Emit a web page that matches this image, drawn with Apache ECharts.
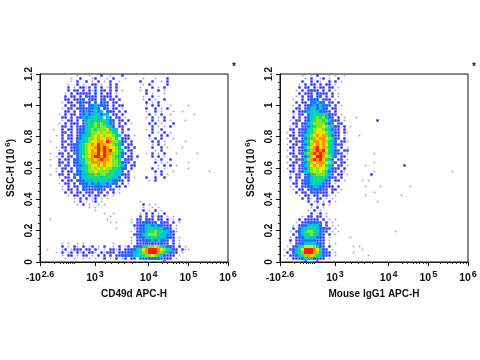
<!DOCTYPE html>
<html><head><meta charset="utf-8">
<style>html,body{margin:0;padding:0;background:#fff}#c{width:480px;height:360px}</style>
<script src="https://cdn.jsdelivr.net/npm/echarts@6/dist/echarts.min.js"></script>
</head><body><div id="c"></div>
<script>
// Density; each character is one 3px cell, '.' = empty, 1 (sparse) .. 9 (hottest)
const densityLeft = [
"............1...1...2..1...2",
"..........1..2...12...1.2...1.....1...1...2",
"..........1.2..2.1.2.1.2..1......2...2..1.2",
".........1..2.1..22.1..2.2........1.2.....2",
".........2.1.2212.2.2.12.2.......1...2.1.2",
".........2.22.2.212.22.2.2.1.....1.2...2.1",
"........1.2.22222.3.2.22.1.........2.1...1",
"........2.22.2.3222.2222.2........1..2.1",
"........22.2223.232.23.22.2.......1.2.1..2",
".......1.22.23223.3.322.22.........2.1.2",
"........2.22.32.3342332.2.22.......1.2.2...1.....1",
".......1.22.23323343.32.22.1.......2..2.1.2",
"........22.2.23432434.332.2.2......1..2.1...1..1",
"......1.2.22.2343445344.22.2........2.1.2..1.......1",
".......22.2.234344544.42.22.1......1.2.1.2",
".......1.22.2.24545455433.22.2.......2.1.2.1....1",
"......1.2.222.24546565432.2.2.1.....2.2.1...2",
".......22.2.2234556566543.22.........2.1.1.2",
"....1..2.22.23345656667544.2.2.....1.2..2",
".......22.2.23345667676654.2.........2.1.2.1",
".....1.2.22.234456767677654.22.1....2...2.2",
".......2.22.33456678778675.322......1.2.2...1",
"...1...22.2.34456778879866532.2......2.2.1......1",
".......2.2233456787988776543.22......1.2.1",
".....1.22.23345677898987765.32.2.....2..2.1....1",
"......1.2.223456787989897654.22.......1.2",
"...1..22.2.234567889798866532.2....1.2.1.2...1......1",
".....1.2.22.3466789989876543.22.2....2.2.1",
"...1..2.22.3344668789887665.322.......1.2..2",
"......22.2.3344678887877665322.2......2.1.1......1",
"...1..2.22.233456778787766553.22.......1.2.2.1",
".....1.22.2.34556767676655433.2......2.1.1.......1",
".....1.2.22.3345667666655442.2........2.2...1...........1......1",
"...1..22.2.2334455656655544322........1.2.1",
"......1.22.3.34455554555443.22.1...2..2..2",
".......2.22.3334445454443322.2......1.2",
"......1.22.2.3334343443433.2.1",
".......1.2.22.3322333232.22.2",
".......1.22.2.32222322.22.1",
"........2.2.22.222.22.2.2.1",
".........1.22.2.2122.21.1",
"...........1.2.2.12.1.1",
"...........1.2.1.12.1............1",
"............1.2.1..1.1............2.1.1",
"................1.1...............1..1.1",
"..................1...............2.1.2.1",
".....................1..1........1.2.2.1.2",
".......................1.........2.2.2.22.1.1",
"...1..................1.......1.22.322.22.2.1.2",
".......................1.1....1.2233323.322.2.1",
"...............................2233443433222.1",
".........................1.....1233455444332.1",
"..............................1.23345565544321",
"...............................23345666544322",
"..............................1.2334455444332.1",
"..............................1.22333434332.2.1",
".......1.1..1.1.........1.....1.22232322322.2.1",
".......2.1.21.2.12.1.2..1.2.12.23345667654332.2.1",
"..1....12.1222.22.21.1.2212.223345789998765432.211",
".....1.2.12.212.221.21222.22233445689998654322.1",
".......1.22.1.22.1.2.2.2.22333344556676543222.1",
"........1..1..1.1.1..2.1.2.12.22.22233332222.1",
".............................1..1.1.1..1.2.1"
];
const densityRight = [
".......1..1.2...1.1..1",
"........1.2..12.1..2",
".......2..2.21..2.2.1",
"......1.2.22.2.22.1",
"......2.22.2122.22.1",
".....1.2.2322.2.2.1",
"......2.222.3222.2.1",
".....1.2.23.23.2.2.1",
"....1..2.2333.222.1",
".....2.22.33433.22.2",
"....1.2.233434332.2.1",
".....22.23443433.22",
"....2.22344543322.2",
"....1.22.3455454322.1",
"....2.2.2345656432.2.1...1",
"...1.22.234566564322.1..........2",
"....22.23456666432.22",
"...1.2.2234566765432.2.1",
"...22.23345677654322.2",
"..1.2.22345677765432.21",
"...22.23456787865322.1....1",
"..1.22.2345678876532.2",
"...2.22345788786543.221",
"..1.22.23467878754322",
"...22.2346789786542.2.1",
"..1.2.22346898975432.22",
"...22.235689898654322.1........1",
"..1.22.234679987643.22",
"...2.2234689897542.22.1",
"..1.22.235678887653.22.........1",
"...22.234578787542.22.1.....1............2",
"..1.2.22346767764322.2",
"...22.2345676765322.21.........1.........................1",
"...1.22.2345666542.22.1.......2",
"...2.22.33455554322.2",
"...1.2.2334555432.22.1.....1.1",
"....22.2334544322.1",
"...1.2.22334433222.2........1....1.........1",
"....1.22.2333322.22.1",
".....2.22.323222.2.1...........1",
"......1.22.22.221.1.........1...........1",
".......2.21.22.1.1",
".........2.12.1.2.1.............1",
"..........2.1.2.1",
"..........1.2.1",
".........1.2.1",
"..........2.12.1",
".......1.22.22.1",
"......2.22222.2.1.1",
".....1.2233332.2.1",
"....1.23344443.2.1.1",
"....2.34455543322.1",
"...1.23456654322.1.1..................1",
"....2.345565432.2.1",
"...1.2334444332.1......1",
"...2.2233333222.1",
"...1.2334444332.1.1",
"..1.23457776432.2.......1.1",
".1.2345799987532.1.........1",
"..2.3458999864322.1.....1",
".1.22345687654322.1..........1",
"..1.22234443222.1",
"....1.1.2.1.2.1"
];
const majorXTicks = [0, 55, 188, 108.7, 148.3];
const clusterXTicks = [14, 20, 23, 26, 28, 30, 32, 34];
const minorXTicks = [65, 71, 78, 84, 92, 122, 127, 133, 136, 139, 143, 146, 160, 167, 172, 176, 180, 183, 186];
const xLabels = { 0: ['-10', '2.6'], 55: ['10', '3'], 108.7: ['10', '4'], 148.3: ['10', '5'], 188: ['10', '6'] };
const xNames = ['CD49d APC-H', 'Mouse IgG1 APC-H'];
const levelColors = ['', '#9a9aff', '#2a2aff', '#0a62f4', '#00c4e0', '#18dc80', '#7ee820', '#e6e600', '#ff9400', '#ff1e00'];
const levelSizes = [0, 1.6, 2.4, 2.8, 3, 3, 3, 3, 3, 3];
const FONT = '"Liberation Sans", Arial, sans-serif';
const chart = echarts.init(document.getElementById('c'), null, { renderer: 'canvas' });

function cells(rows) {
  const out = [];
  rows.forEach((r, j) => {
    for (let i = 0; i < r.length; i++) {
      const v = r[i] === '.' ? 0 : +r[i];
      if (v) out.push([(i + 0.5) * 3, 1.2 * (1 - (j + 0.5) * 3 / 188), v]);
    }
  });
  return out;
}
const rich = { b: { fontFamily: FONT, fontWeight: 'bold', fontSize: 10.5, color: '#111' }, s: { fontFamily: FONT, fontWeight: 'bold', fontSize: 9, color: '#111', padding: [0, 0, 7, 1] } };
const lefts = [40, 280];
const grids = [], xs = [], ys = [], series = [];
[densityLeft, densityRight].forEach((rows, k) => {
  grids.push({ left: lefts[k], top: 74, width: 188, height: 188, show: true, borderColor: '#111', borderWidth: 1, backgroundColor: '#fff' });
  xs.push({
    gridIndex: k, type: 'value', min: 0, max: 188, splitLine: { show: false }, name: xNames[k], nameLocation: 'middle', nameGap: 27,
    nameTextStyle: { fontFamily: FONT, fontWeight: 'bold', fontSize: 10, color: '#111' },
    axisLine: { lineStyle: { color: '#111' } }, axisTick: { length: 4, customValues: majorXTicks, lineStyle: { color: '#111' } },
    axisLabel: { customValues: majorXTicks, margin: 8, hideOverlap: false, showMinLabel: true, showMaxLabel: true, rich,
      formatter: v => { const l = xLabels[v]; return l ? `{b|${l[0]}}{s|${l[1]}}` : ''; } }
  });
  xs.push({
    gridIndex: k, type: 'value', min: 0, max: 188, position: 'bottom', splitLine: { show: false }, axisLine: { show: false },
    axisLabel: { show: false }, axisTick: { length: 2, customValues: minorXTicks.concat(clusterXTicks), lineStyle: { color: '#333' } }
  });
  ys.push({
    gridIndex: k, type: 'value', min: 0, max: 1.2, interval: 0.2, splitLine: { show: false }, name: '{b|SSC-H (10}{s|6}{b|)}', nameLocation: 'middle', nameGap: 22, nameRotate: 90,
    nameTextStyle: { rich: { b: { fontFamily: FONT, fontWeight: 'bold', fontSize: 10, color: '#111' }, s: { fontFamily: FONT, fontWeight: 'bold', fontSize: 8, color: '#111', padding: [0, 0, 6, 2] } } },
    axisLine: { lineStyle: { color: '#111' } }, axisTick: { length: 4, lineStyle: { color: '#111' } },
    minorTick: { show: true, splitNumber: 4, length: 2, lineStyle: { color: '#333' } },
    axisLabel: { rotate: 90, margin: 6, fontFamily: FONT, fontWeight: 'bold', fontSize: 10, color: '#111', formatter: v => String(+v.toFixed(1)) }
  });
  series.push({
    type: 'scatter', xAxisIndex: k * 2, yAxisIndex: k, data: cells(rows), symbol: 'rect', silent: true, animation: false, large: false,
    symbolSize: d => levelSizes[d[2]], itemStyle: { opacity: 1, color: p => levelColors[p.data[2]] }, z: 3
  });
});
chart.setOption({
  animation: false, backgroundColor: '#fff', grid: grids, xAxis: xs, yAxis: ys, series,
  graphic: [234, 474].map(x => ({ type: 'text', x, y: 67, style: { text: '*', font: 'bold 10px ' + FONT, fill: '#222', textAlign: 'center', textVerticalAlign: 'middle' } }))
});
</script></body></html>
